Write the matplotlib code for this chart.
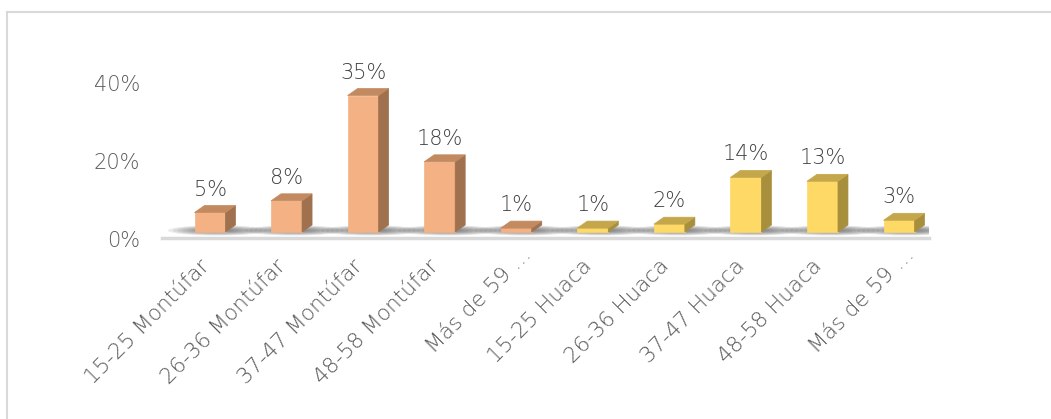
import numpy as np
import matplotlib
matplotlib.use("Agg")
import matplotlib.pyplot as plt
from matplotlib.patches import Polygon, Ellipse
from matplotlib.lines import Line2D
import matplotlib.transforms as mtransforms

# 数据
categorias = ["15-25 Montúfar", "26-36 Montúfar", "37-47 Montúfar", "48-58 Montúfar", "Más de 59 …",
              "15-25 Huaca", "26-36 Huaca", "37-47 Huaca", "48-58 Huaca", "Más de 59 …"]
valores = [5, 8, 35, 18, 1, 1, 2, 14, 13, 3]
grupo = ["Montúfar"] * 5 + ["Huaca"] * 5
etiquetas_y = ["0%", "20%", "40%"]
ticks_y = [0, 20, 40]

# 颜色 (frente, lado, arriba)
colores = {
    "Montúfar": ("#F4B183", "#A0714F", "#C3895F"),
    "Huaca": ("#FFD966", "#A88F3E", "#C5A74B"),
}

W, H, DPI = 1051, 419, 100
plt.rcParams['font.family'] = ['DejaVu Sans']
plt.rcParams['font.weight'] = 'light'


def draw_chart():
    fig = plt.figure(figsize=(W / DPI, H / DPI), dpi=DPI)
    # borde del gráfico (solo izquierda y arriba visibles)
    fig.add_artist(Line2D([7 / W, 7 / W], [0, 1 - 12 / H], color="#D9D9D9", lw=1.5))
    fig.add_artist(Line2D([7 / W, 1], [1 - 12 / H, 1 - 12 / H], color="#D9D9D9", lw=1.5))

    left, right, top, bottom = 162, 929, 60, 238
    ax = fig.add_axes([left / W, 1 - bottom / H, (right - left) / W, (bottom - top) / H])
    x = np.arange(len(valores))
    paso = 76.56  # px por categoria
    px_y = 3.9    # px por 1%
    ax.set_xlim((left - 210) / paso, (right - 210) / paso)
    ax.set_ylim(-(bottom - 232) / px_y, (232 - top) / px_y)

    dx = 10 / paso
    dy = 7 / px_y
    w = 31 / paso

    # sombras del piso
    for xi in x:
        for k in range(8):
            f = 1 - k / 8
            ax.add_patch(Ellipse((xi + 0.1, 0.4), 1.0 * f + 0.3, 2.2 * f + 0.4,
                                 color="#404040", alpha=0.1, lw=0, zorder=1))

    frente = [colores[g][0] for g in grupo]
    ax.bar(x, valores, width=w, color=frente, zorder=3, edgecolor=frente, lw=0.5)
    for xi, v, g in zip(x, valores, grupo):
        _, lado, arriba = colores[g]
        ax.add_patch(Polygon([(xi + w / 2, 0), (xi + w / 2 + dx, dy), (xi + w / 2 + dx, v + dy), (xi + w / 2, v)],
                             closed=True, facecolor=lado, edgecolor=lado, lw=0.5, zorder=3))
        ax.add_patch(Polygon([(xi - w / 2, v), (xi + w / 2, v), (xi + w / 2 + dx, v + dy), (xi - w / 2 + dx, v + dy)],
                             closed=True, facecolor=arriba, edgecolor=arriba, lw=0.5, zorder=3))
        ax.annotate(f"{v}%", (xi, v), xytext=(0, 16.5), textcoords="offset points",
                    ha="center", va="center", fontsize=15, color="#404040")

    for s in ["left", "right", "top"]:
        ax.spines[s].set_visible(False)
    ax.spines["bottom"].set_color("#D9D9D9")
    ax.spines["bottom"].set_linewidth(2.5)

    ax.set_yticks(ticks_y)
    ax.set_yticklabels(etiquetas_y, fontsize=15, color="#595959")
    ax.tick_params(axis="y", length=0, pad=16)
    baja = mtransforms.ScaledTranslation(0, -7 / DPI, fig.dpi_scale_trans)
    for lab in ax.get_yticklabels():
        lab.set_transform(lab.get_transform() + baja)

    ax.set_xticks(x)
    ax.set_xticklabels(categorias, fontsize=15.5, color="#595959", rotation=45,
                       ha="right", va="top", rotation_mode="anchor")
    ax.tick_params(axis="x", length=0, pad=8)
    for lab, c in zip(ax.get_xticklabels(), categorias):
        sx, sy = (5, 5) if c.endswith("…") else (-11, -7)
        lab.set_transform(lab.get_transform() + mtransforms.ScaledTranslation(sx / DPI, sy / DPI, fig.dpi_scale_trans))

    plt.savefig("out.png", dpi=DPI)


if __name__ == '__main__':
    draw_chart()
